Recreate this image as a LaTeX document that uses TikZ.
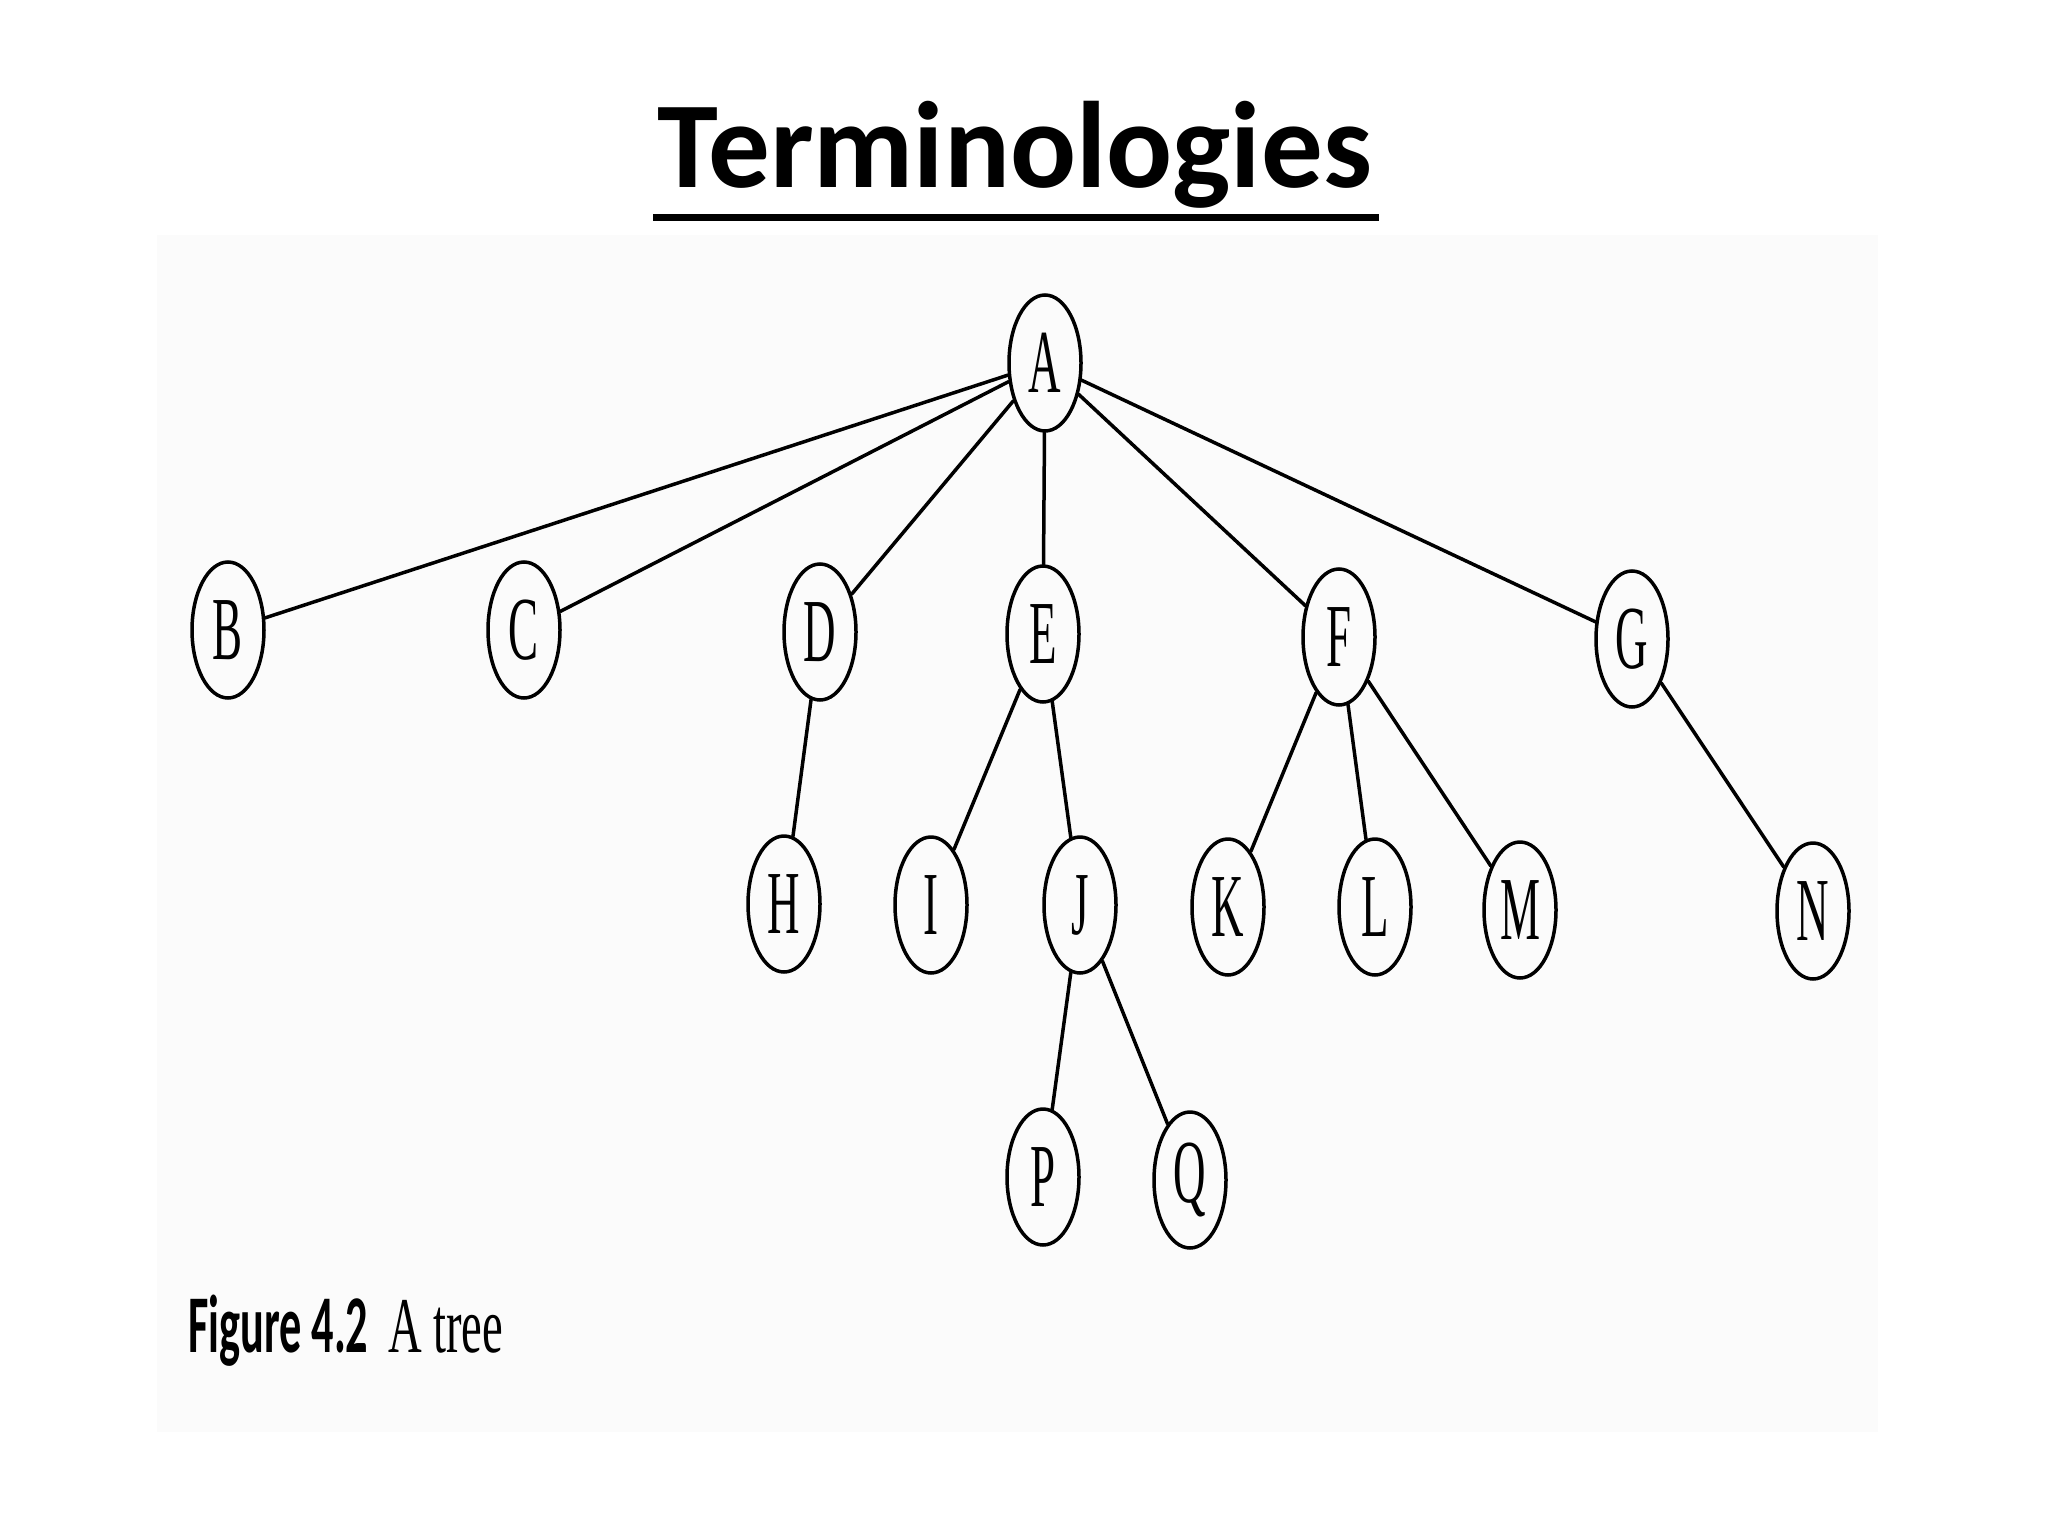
\documentclass[tikz,border=0pt]{standalone}
\usepackage{fontspec}
\setmainfont{Liberation Serif}
\newfontfamily\titlefont{Carlito}
\usetikzlibrary{shapes.geometric}
\tikzset{
  vert/.style={draw=black, ellipse, line width=3.5pt, minimum width=72pt, minimum height=136pt, inner sep=0pt,
    font=\fontsize{90}{92}\selectfont},
  edge/.style={line width=3.5pt, line cap=round}
}
\newcommand{\lbl}[1]{\scalebox{0.5}[1]{#1}}
\begin{document}
\begin{tikzpicture}[x=1pt,y=-1pt]
\useasboundingbox (0,0) rectangle (2048,1536);
\fill[white] (0,0) rectangle (2048,1536);
\fill[black!1.5] (157,235) rectangle (1878,1432);
% title
\node[anchor=base, inner sep=0pt, font=\titlefont\bfseries\fontsize{123}{130}\selectfont] (title) at (1015,187) {Terminologies};
\fill (653,214) rectangle (1379,221);
% nodes
\node[vert] (A) at (1045,363) {\lbl{A}};
\node[vert] (B) at (228,630) {\lbl{B}};
\node[vert] (C) at (524,630) {\lbl{C}};
\node[vert] (D) at (820,632) {\lbl{D}};
\node[vert] (E) at (1043,634) {\lbl{E}};
\node[vert] (F) at (1339,637) {\lbl{F}};
\node[vert] (G) at (1632,639) {\lbl{G}};
\node[vert] (H) at (784,904) {\lbl{H}};
\node[vert] (I) at (931,905) {\lbl{I}};
\node[vert] (J) at (1080,905) {\lbl{J}};
\node[vert] (K) at (1228,907) {\lbl{K}};
\node[vert] (L) at (1375,907) {\lbl{L}};
\node[vert] (M) at (1520,910) {\lbl{M}};
\node[vert] (N) at (1813,911) {\lbl{N}};
\node[vert] (P) at (1043,1177) {\lbl{P}};
\node[vert] (Q) at (1190,1180) {\lbl{Q}};
% edges
\foreach \c in {B,C,D,E,F,G} \draw[edge] (A) -- (\c);
\draw[edge] (D) -- (H);
\draw[edge] (E) -- (I);
\draw[edge] (E) -- (J);
\draw[edge] (F) -- (K);
\draw[edge] (F) -- (L);
\draw[edge] (F) -- (M);
\draw[edge] (G) -- (N);
\draw[edge] (J) -- (P);
\draw[edge] (J) -- (Q);
% caption
\node[anchor=base west, inner sep=0pt, font=\titlefont\bfseries\fontsize{82}{84}\selectfont] (cap1) at (188,1352) {\scalebox{0.54}[1]{Figure 4.2}};
\node[anchor=base west, inner sep=0pt, font=\fontsize{79}{80}\selectfont] (cap2) at (388,1352) {\scalebox{0.59}[1]{A tree}};
\end{tikzpicture}
\end{document}
